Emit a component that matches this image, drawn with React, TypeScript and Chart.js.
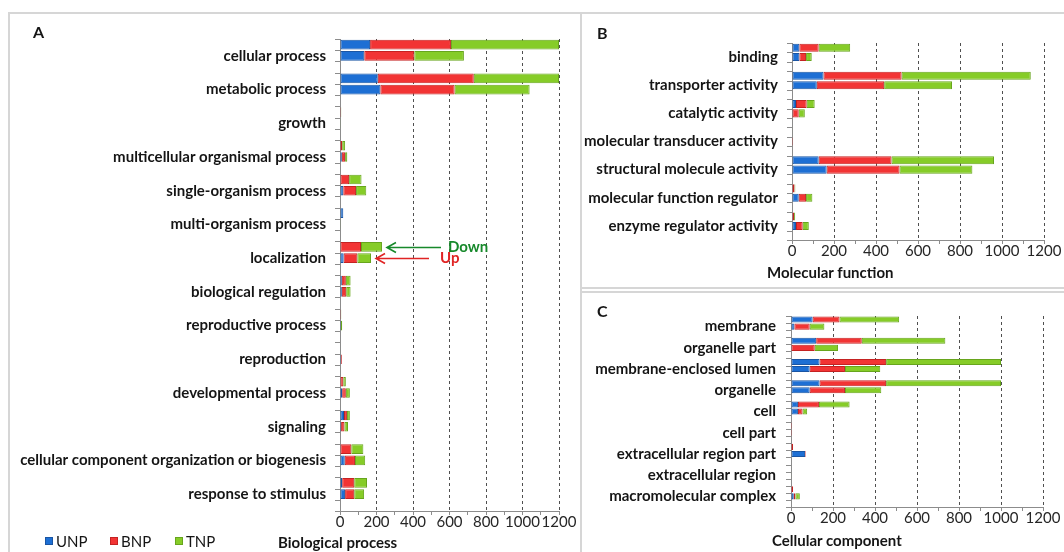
import React, { useEffect, useRef } from 'react';
import { Chart, registerables } from 'chart.js';

Chart.register(...registerables);

const FONT = 'Lato';

// Series (stacked within each bar) and their colours
const seriesNames = ['UNP', 'BNP', 'TNP'];
const fillColors = ['#1d6fd4', '#f23434', '#86cc28'];
const edgeColors = ['#1a55a3', '#c42222', '#67a51d'];

// Value axis tick labels (minor ticks every 100)
const xTickLabels = [0, 200, 400, 600, 800, 1000, 1200];

// ---- A: Biological process ----
const bpLabels = [
  'cellular process',
  'metabolic process',
  'growth',
  'multicellular organismal process',
  'single-organism process',
  'multi-organism process',
  'localization',
  'biological regulation',
  'reproductive process',
  'reproduction',
  'developmental process',
  'signaling',
  'cellular component organization or biogenesis',
  'response to stimulus',
];
const bpDownUNP = [165, 207, 0, 0, 0, 18, 0, 10, 0, 0, 0, 22, 0, 12];
const bpDownBNP = [443, 526, 5, 12, 50, 0, 115, 22, 5, 0, 18, 16, 62, 66];
const bpDownTNP = [592, 467, 2, 16, 68, 0, 115, 26, 2, 3, 14, 16, 66, 70];
const bpUpUNP = [133, 221, 0, 10, 18, 0, 20, 10, 5, 5, 12, 6, 26, 28];
const bpUpBNP = [274, 407, 0, 18, 70, 0, 75, 24, 0, 5, 20, 18, 56, 50];
const bpUpTNP = [272, 411, 4, 12, 56, 4, 75, 24, 7, 0, 22, 20, 56, 54];

// ---- B: Molecular function ----
const mfLabels = [
  'binding',
  'transporter activity',
  'catalytic activity',
  'molecular transducer activity',
  'structural molecule activity',
  'molecular function regulator',
  'enzyme regulator activity',
];
const mfDownUNP = [35, 150, 19, 0, 127, 0, 0];
const mfDownBNP = [92, 372, 51, 0, 347, 12, 10];
const mfDownTNP = [150, 615, 38, 3, 488, 4, 5];
const mfUpUNP = [35, 118, 0, 0, 165, 32, 19];
const mfUpBNP = [32, 321, 32, 5, 347, 35, 32];
const mfUpTNP = [27, 323, 29, 0, 347, 30, 29];

// ---- C: Cellular component ----
const ccLabels = [
  'membrane',
  'organelle part',
  'membrane-enclosed lumen',
  'organelle',
  'cell',
  'cell part',
  'extracellular region part',
  'extracellular region',
  'macromolecular complex',
];
const ccDownUNP = [103, 120, 136, 136, 33, 0, 0, 0, 0];
const ccDownBNP = [128, 217, 317, 317, 100, 5, 10, 0, 10];
const ccDownTNP = [284, 398, 547, 547, 146, 0, 0, 0, 0];
const ccUpUNP = [16, 0, 89, 89, 33, 0, 67, 0, 13];
const ccUpBNP = [73, 113, 168, 168, 22, 5, 3, 0, 8];
const ccUpTNP = [70, 111, 168, 173, 22, 0, 0, 3, 21];

// Small tick marks on the category axis: each category holds three slots
// (Down bar, Up bar, blank), with a tick at every slot boundary.
const slotTicks = {
  id: 'slotTicks',
  afterDraw(chart: any) {
    const { ctx, chartArea } = chart;
    const y = chart.scales.y;
    const n = chart.data.labels.length;
    ctx.save();
    ctx.strokeStyle = '#8c8c8c';
    ctx.lineWidth = 1;
    ctx.beginPath();
    for (let i = 0; i < n; i++) {
      for (let j = 0; j <= 3; j++) {
        if (j === 3 && i < n - 1) continue;
        const py = Math.round(y.getPixelForValue(i - 0.5 + j / 3)) + 0.5;
        ctx.moveTo(chartArea.left - 5, py);
        ctx.lineTo(chartArea.left, py);
      }
    }
    ctx.stroke();
    ctx.restore();
  },
};

// "Down" / "Up" call-outs pointing at the ends of the localization bars
const calloutArrows = {
  id: 'calloutArrows',
  afterDatasetsDraw(chart: any) {
    const idx = bpLabels.indexOf('localization');
    const { ctx } = chart;
    const drawArrow = (el: any, len: number, gap: number, color: string, text: string) => {
      const tip = el.x + 5;
      const y = Math.round(el.y) + 0.5;
      ctx.save();
      ctx.strokeStyle = color;
      ctx.lineWidth = 1.6;
      ctx.beginPath();
      ctx.moveTo(tip + len, y);
      ctx.lineTo(tip, y);
      ctx.moveTo(tip + 9, y - 5);
      ctx.lineTo(tip, y);
      ctx.lineTo(tip + 9, y + 5);
      ctx.stroke();
      ctx.fillStyle = color;
      ctx.font = `bold 15px ${FONT}`;
      ctx.textBaseline = 'middle';
      ctx.textAlign = 'left';
      ctx.fillText(text, tip + len + gap, y);
      ctx.restore();
    };
    drawArrow(chart.getDatasetMeta(2).data[idx], 54, 7, '#17892b', 'Down');
    drawArrow(chart.getDatasetMeta(5).data[idx], 53, 11, '#e02424', 'Up');
  },
};

type PanelProps = {
  labels: string[];
  down: number[][];
  up: number[][];
  width: number;
  height: number;
  padTop: number;
  padRight: number;
  axisWidth: number;
  axisHeight: number;
  labelPad: number;
  withArrows?: boolean;
};

function GoPanel(props: PanelProps) {
  const ref = useRef<HTMLCanvasElement | null>(null);

  useEffect(() => {
    const { labels, down, up, padTop, padRight, axisWidth, axisHeight, labelPad, withArrows } = props;
    const datasets: any[] = [];
    down.forEach((d, i) =>
      datasets.push({
        label: seriesNames[i],
        stack: 'down',
        data: d,
        backgroundColor: fillColors[i],
        borderColor: edgeColors[i],
        borderWidth: 1,
        borderSkipped: false,
      })
    );
    up.forEach((d, i) =>
      datasets.push({
        label: seriesNames[i],
        stack: 'up',
        data: d,
        backgroundColor: fillColors[i],
        borderColor: edgeColors[i],
        borderWidth: 1,
        borderSkipped: false,
      })
    );
    // empty third slot in every category
    datasets.push({ label: '', stack: 'blank', data: labels.map(() => null) });

    const plugins: any[] = [slotTicks];
    if (withArrows) plugins.push(calloutArrows);

    const chart = new Chart(ref.current as HTMLCanvasElement, {
      type: 'bar',
      data: { labels, datasets },
      options: {
        indexAxis: 'y',
        responsive: false,
        maintainAspectRatio: false,
        animation: false,
        layout: { padding: { top: padTop, right: padRight, left: 0, bottom: 0 } },
        datasets: { bar: { categoryPercentage: 1, barPercentage: 0.86 } },
        plugins: { legend: { display: false }, tooltip: { enabled: false } },
        scales: {
          x: {
            type: 'linear',
            stacked: true,
            min: 0,
            max: 1200,
            afterFit: (s: any) => {
              s.height = axisHeight;
            },
            ticks: {
              stepSize: 100,
              autoSkip: false,
              maxRotation: 0,
              padding: -2,
              color: '#262626',
              font: { family: FONT, size: 15 },
              callback: (v: any) => (xTickLabels.includes(Number(v)) ? String(v) : ''),
            },
            grid: {
              color: (c: any) =>
                c.tick && c.tick.value % 200 === 0 && c.tick.value !== 0 ? '#4f4f4f' : 'rgba(0,0,0,0)',
              tickColor: '#8c8c8c',
              tickLength: 4,
              lineWidth: 1,
            },
            border: { display: true, color: '#8c8c8c', width: 1, dash: [3, 3] },
          },
          y: {
            type: 'category',
            stacked: true,
            offset: true,
            afterFit: (s: any) => {
              s.width = axisWidth;
            },
            grid: { display: false, drawTicks: false },
            border: { display: true, color: '#8c8c8c', width: 1 },
            ticks: {
              autoSkip: false,
              padding: labelPad,
              color: '#151515',
              font: { family: FONT, size: 15, weight: 'bold' },
            },
          },
        },
      } as any,
      plugins,
    });
    return () => chart.destroy();
  }, []);

  return (
    <canvas
      ref={ref}
      width={props.width}
      height={props.height}
      style={{ display: 'block', width: props.width, height: props.height }}
    />
  );
}

const textBase: React.CSSProperties = {
  position: 'absolute',
  fontFamily: FONT,
  fontSize: 15,
  lineHeight: '18px',
  color: '#151515',
  whiteSpace: 'nowrap',
};

function LegendItem({ x, i }: { x: number; i: number }) {
  return (
    <>
      <div
        style={{
          position: 'absolute',
          left: x,
          top: 537,
          width: 6,
          height: 6,
          background: fillColors[i],
          border: `1px solid ${edgeColors[i]}`,
        }}
      />
      <div style={{ ...textBase, left: x + 11, top: 532 }}>{seriesNames[i]}</div>
    </>
  );
}

export default function App() {
  const frame: React.CSSProperties = {
    position: 'absolute',
    boxSizing: 'border-box',
    border: '2px solid #d6d6d6',
  };
  return (
    <div
      style={{
        position: 'absolute',
        left: 0,
        top: 0,
        width: 1064,
        height: 552,
        overflow: 'hidden',
        background: '#ffffff',
      }}
    >
      <div style={{ ...frame, left: 8, top: 12, width: 574, height: 600 }} />
      <div style={{ ...frame, left: 580, top: 12, width: 600, height: 277 }} />
      <div style={{ ...frame, left: 580, top: 291, width: 600, height: 300 }} />

      <div style={{ position: 'absolute', left: 9, top: 13 }}>
        <GoPanel
          labels={bpLabels}
          down={[bpDownUNP, bpDownBNP, bpDownTNP]}
          up={[bpUpUNP, bpUpBNP, bpUpTNP]}
          width={572}
          height={539}
          padTop={26}
          padRight={22}
          axisWidth={331}
          axisHeight={41}
          labelPad={14}
          withArrows
        />
      </div>
      <div style={{ position: 'absolute', left: 581, top: 13 }}>
        <GoPanel
          labels={mfLabels}
          down={[mfDownUNP, mfDownBNP, mfDownTNP]}
          up={[mfUpUNP, mfUpBNP, mfUpTNP]}
          width={483}
          height={275}
          padTop={30}
          padRight={20}
          axisWidth={211}
          axisHeight={48}
          labelPad={14}
        />
      </div>
      <div style={{ position: 'absolute', left: 581, top: 292 }}>
        <GoPanel
          labels={ccLabels}
          down={[ccDownUNP, ccDownBNP, ccDownTNP]}
          up={[ccUpUNP, ccUpBNP, ccUpTNP]}
          width={483}
          height={260}
          padTop={15}
          padRight={21}
          axisWidth={210}
          axisHeight={45}
          labelPad={15}
        />
      </div>

      <div style={{ ...textBase, left: 33, top: 23, fontWeight: 'bold', fontSize: 16 }}>A</div>
      <div style={{ ...textBase, left: 597, top: 24, fontWeight: 'bold', fontSize: 16 }}>B</div>
      <div style={{ ...textBase, left: 597, top: 302, fontWeight: 'bold', fontSize: 16 }}>C</div>

      <div style={{ ...textBase, left: 278, top: 533, fontWeight: 'bold' }}>Biological process</div>
      <div style={{ ...textBase, left: 767, top: 263, fontWeight: 'bold' }}>Molecular function</div>
      <div style={{ ...textBase, left: 772, top: 531, fontWeight: 'bold' }}>Cellular component</div>

      <LegendItem x={45} i={0} />
      <LegendItem x={110} i={1} />
      <LegendItem x={175} i={2} />
    </div>
  );
}
